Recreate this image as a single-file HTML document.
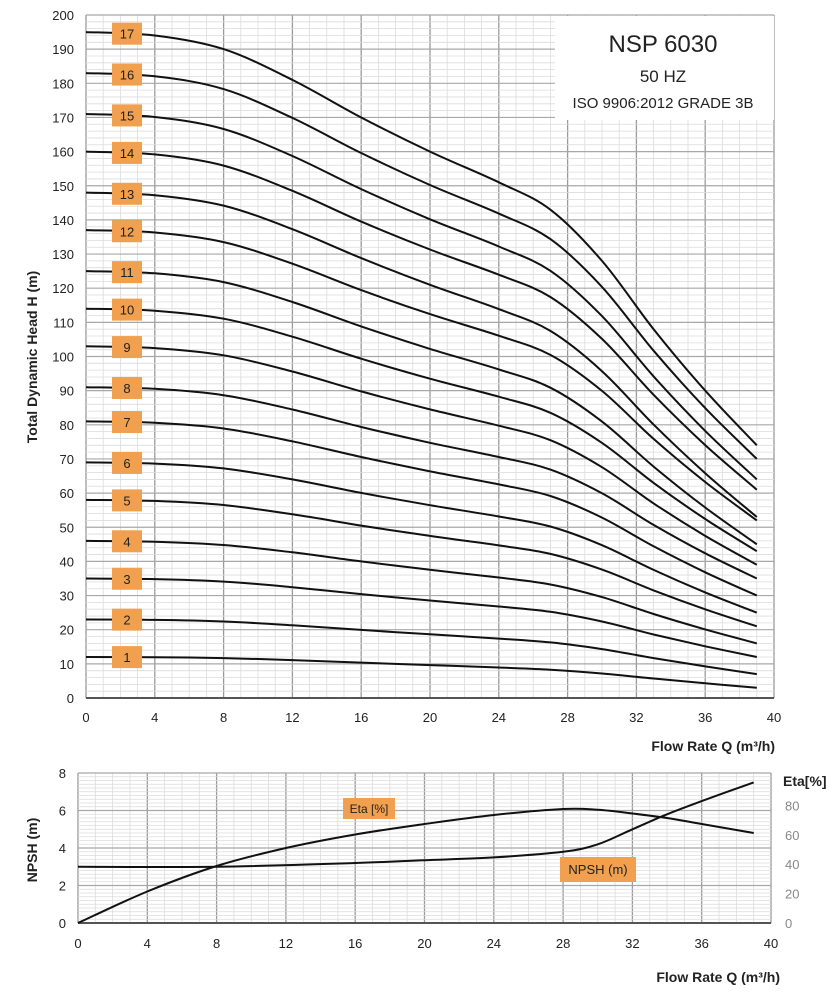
<!DOCTYPE html>
<html><head><meta charset="utf-8"><style>
html,body{margin:0;padding:0;background:#fff;width:836px;height:1000px;overflow:hidden}
svg{display:block;font-family:"Liberation Sans",sans-serif}
</style></head><body>
<svg id="s" width="836" height="1000" xmlns="http://www.w3.org/2000/svg"></svg>
<script>
const s=document.getElementById('s');let o='';
function crPath(pts){let d='M'+pts[0][0].toFixed(1)+','+pts[0][1].toFixed(1);
for(let i=0;i<pts.length-1;i++){const p0=pts[Math.max(0,i-1)],p1=pts[i],p2=pts[i+1],p3=pts[Math.min(pts.length-1,i+2)];
const c1=[p1[0]+(p2[0]-p0[0])/6,p1[1]+(p2[1]-p0[1])/6],c2=[p2[0]-(p3[0]-p1[0])/6,p2[1]-(p3[1]-p1[1])/6];
d+=' C'+c1[0].toFixed(1)+','+c1[1].toFixed(1)+' '+c2[0].toFixed(1)+','+c2[1].toFixed(1)+' '+p2[0].toFixed(1)+','+p2[1].toFixed(1);}return d;}
// main chart
const X0=86,X1=774,Y0=698,Y1=15;
const mx=q=>X0+q*(X1-X0)/40, my=h=>Y0-h*(Y0-Y1)/200;
o+='<rect x="'+X0+'" y="'+Y1+'" width="'+(X1-X0)+'" height="'+(Y0-Y1)+'" fill="#fff"/>';
for(let q=0;q<=40;q++){o+='<line x1="'+mx(q)+'" y1="'+Y1+'" x2="'+mx(q)+'" y2="'+Y0+'" stroke="'+(q%4==0?'#9a9a9a':'#dcdcdc')+'" stroke-width="'+(q%4==0?1.3:0.8)+'"/>';}
for(let h=0;h<=200;h+=2){o+='<line x1="'+X0+'" y1="'+my(h)+'" x2="'+X1+'" y2="'+my(h)+'" stroke="'+(h%10==0?'#a8a8a8':'#dcdcdc')+'" stroke-width="'+(h%10==0?1.2:0.8)+'"/>';}
o+='<line x1="'+X0+'" y1="'+Y0+'" x2="'+X1+'" y2="'+Y0+'" stroke="#555" stroke-width="2"/>';
for(let h=0;h<=200;h+=10)o+='<text x="74" y="'+(my(h)+5)+'" font-size="13" text-anchor="end" fill="#222">'+h+'</text>';
for(let q=0;q<=40;q+=4)o+='<text x="'+mx(q)+'" y="722" font-size="13" text-anchor="middle" fill="#222">'+q+'</text>';
o+='<text x="775" y="751" font-size="14" font-weight="bold" text-anchor="end" fill="#222">Flow Rate Q (m³/h)</text>';
o+='<text transform="translate(37,357) rotate(-90)" font-size="14" font-weight="bold" text-anchor="middle" fill="#222">Total Dynamic Head  H (m)</text>';
const fq=[0,4,8,12,16,20,24,27,30,33,36,39];
const fv=[195,194,190,181,170,160,151,143,128,108,90,74].map(v=>v/195);
const st=[12,23,35,46,58,69,81,91,103,114,125,137,148,160,171,183,195];
const en=[3,7,12,16,21,25,30,35,39,43,45,52,53,61,64,70,74];
for(let n=0;n<17;n++){const corr=en[n]-st[n]*fv[fv.length-1];
const pts=fq.map((q,i)=>[mx(q),my(st[n]*fv[i]+corr*Math.pow(q/39,3))]);
o+='<path d="'+crPath(pts)+'" fill="none" stroke="#111" stroke-width="2"/>';
const hy=my(st[n]*(1-0.004*2.4/4));
o+='<rect x="112" y="'+(hy-11)+'" width="30" height="22" fill="#f0a04e"/><text x="127" y="'+(hy+5)+'" font-size="13" text-anchor="middle" fill="#222">'+(n+1)+'</text>';}
o+='<rect x="555" y="16" width="219" height="104" fill="#fff"/>';
o+='<text x="663" y="52" font-size="24" text-anchor="middle" fill="#222">NSP 6030</text>';
o+='<text x="663" y="82" font-size="17" text-anchor="middle" fill="#222">50 HZ</text>';
o+='<text x="663" y="108" font-size="15" text-anchor="middle" fill="#222">ISO 9906:2012 GRADE 3B</text>';
// bottom chart
const B0=78,B1=771,BY0=923,BY1=773;
const bx=q=>B0+q*(B1-B0)/40, by=v=>BY0-v*(BY0-BY1)/8;
for(let q=0;q<=40;q++){o+='<line x1="'+bx(q)+'" y1="'+BY1+'" x2="'+bx(q)+'" y2="'+BY0+'" stroke="'+(q%4==0?'#9a9a9a':'#dcdcdc')+'" stroke-width="'+(q%4==0?1.3:0.8)+'"/>';}
for(let i=0;i<=40;i++){const v=i*0.2;o+='<line x1="'+B0+'" y1="'+by(v)+'" x2="'+B1+'" y2="'+by(v)+'" stroke="'+(i%10==0?'#a8a8a8':'#dcdcdc')+'" stroke-width="'+(i%10==0?1.2:0.8)+'"/>';}
o+='<line x1="'+B0+'" y1="'+BY0+'" x2="'+B1+'" y2="'+BY0+'" stroke="#555" stroke-width="2"/>';
for(let v=0;v<=8;v+=2)o+='<text x="66" y="'+(by(v)+5)+'" font-size="13" text-anchor="end" fill="#222">'+v+'</text>';
for(let e=0;e<=80;e+=20)o+='<text x="785" y="'+(BY0-e*1.47+5)+'" font-size="13" fill="#888">'+e+'</text>';
o+='<text x="783" y="786" font-size="14" font-weight="bold" fill="#222">Eta[%]</text>';
for(let q=0;q<=40;q+=4)o+='<text x="'+bx(q)+'" y="948" font-size="13" text-anchor="middle" fill="#222">'+q+'</text>';
o+='<text x="780" y="982" font-size="14" font-weight="bold" text-anchor="end" fill="#222">Flow Rate Q (m³/h)</text>';
o+='<text transform="translate(37,850) rotate(-90)" font-size="14" font-weight="bold" text-anchor="middle" fill="#222">NPSH (m)</text>';
const nq=[0,8,16,20,24,28,30,32,34,36,39],nv=[3,3,3.2,3.35,3.5,3.8,4.2,5,5.8,6.5,7.5];
let pts=nq.map((q,i)=>[bx(q),by(nv[i])]);o+='<path d="'+crPath(pts)+'" fill="none" stroke="#111" stroke-width="2"/>';
const eq=[0,4,8,12,16,20,24,28,30,32,34,36,39],ev=[0,21,38,50,59,66,72,76,75.5,73,70,66,60];
pts=eq.map((q,i)=>[bx(q),by(ev[i]*0.08)]);o+='<path d="'+crPath(pts)+'" fill="none" stroke="#111" stroke-width="2"/>';
o+='<rect x="343" y="798" width="52" height="21" fill="#f0a04e"/><text x="369" y="813" font-size="12" text-anchor="middle" fill="#222">Eta [%]</text>';
o+='<rect x="560" y="857" width="76" height="25" fill="#f0a04e"/><text x="598" y="874" font-size="13" text-anchor="middle" fill="#222">NPSH (m)</text>';
s.innerHTML=o;
</script>
</body></html>
